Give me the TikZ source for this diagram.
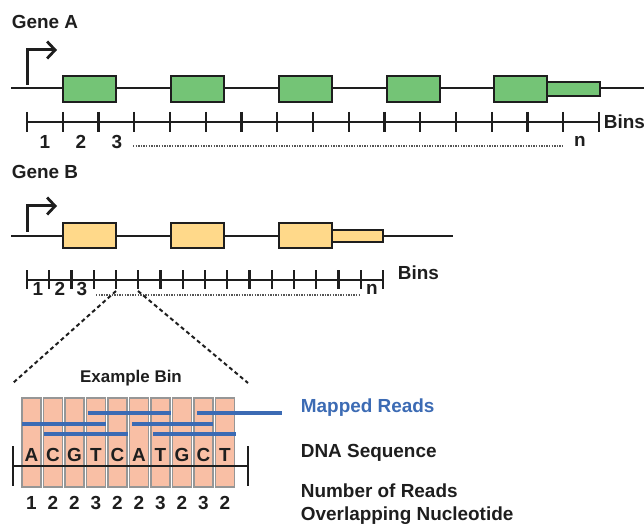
\documentclass[tikz,border=0pt]{standalone}
\usepackage{fontspec}
\setmainfont{Liberation Sans}
\usepackage{xcolor}
\usepackage{tikz}
\usetikzlibrary{arrows.meta, positioning, calc}
\definecolor{ExonGreen}{RGB}{116, 196, 118}
\definecolor{ExonYellow}{RGB}{255, 217, 138}
\definecolor{BinSalmon}{RGB}{249, 191, 165}
\definecolor{BinEdge}{RGB}{150, 150, 150}
\definecolor{ReadBlue}{RGB}{60, 107, 180}
\definecolor{InkDark}{RGB}{30, 30, 30}

\begin{document}
\begin{tikzpicture}[x=1bp,y=-1bp,
    line width=1.8bp, draw=InkDark,
    lbl/.style={font=\fontsize{19}{22}\selectfont\bfseries, text=InkDark, inner sep=0pt},
    exonA/.style={fill=ExonGreen, draw=InkDark, line width=2bp},
    exonB/.style={fill=ExonYellow, draw=InkDark, line width=2bp},
    tss/.style={line width=3bp, -{Straight Barb[length=8bp, width=17bp, line width=2.8bp]}},
    tick/.style={line width=2.2bp},
    binbox/.style={fill=BinSalmon, draw=BinEdge, line width=1.2bp},
    readline/.style={ReadBlue, line width=3.5bp},
    dotline/.style={line width=2bp, dash pattern=on 1.3bp off 1.3bp, InkDark!75}]
  \path[use as bounding box] (0,0) rectangle (644,531);

  % gene A
  \node[lbl, anchor=west] (geneA) at (11,22) {Gene A};
  \draw[tss] (27,85) -- (27,50) -- (57,50);
  \draw (11,88) -- (644,88);
  \foreach \x in {63,171,279,387,494}
    \draw[exonA] (\x,76) rectangle ++(53,26);
  \draw[exonA] (547,82) rectangle (600,96);
  \draw (27,122) -- (599,122);
  \foreach \i in {0,...,16} {
    \pgfmathsetmacro\tx{27+35.75*\i}
    \draw[tick] (\tx,112) -- (\tx,132);
  }
  \node[lbl] (binA1) at (45,142) {1};
  \node[lbl] (binA2) at (81,142) {2};
  \node[lbl] (binA3) at (117,142) {3};
  \node[lbl] (binAn) at (580,141) {n};
  \draw[dotline] (133,146) -- (564,146);
  \node[lbl, anchor=west] (binsA) at (603,122) {Bins};

  % gene B
  \node[lbl, anchor=west] (geneB) at (11,172) {Gene B};
  \draw[tss] (27,232) -- (27,206) -- (57,206);
  \draw (11,236) -- (453,236);
  \foreach \x in {63,171,279}
    \draw[exonB] (\x,223) rectangle ++(53,25);
  \draw[exonB] (332,230) rectangle (383,242);
  \draw (27,280) -- (383,280);
  \foreach \i in {0,...,16} {
    \pgfmathsetmacro\tx{27+22.25*\i}
    \draw[tick] (\tx,270) -- (\tx,289);
  }
  \node[lbl] (binB1) at (38,289) {1};
  \node[lbl] (binB2) at (60,289) {2};
  \node[lbl] (binB3) at (82,289) {3};
  \node[lbl] (binBn) at (372,289) {n};
  \draw[dotline] (96,295) -- (360,295);
  \node[lbl, anchor=west] (binsB) at (397,273) {Bins};

  % zoom onto one bin
  \coordinate (zoomL) at (116,291);
  \coordinate (zoomR) at (138,291);
  \coordinate (exL) at (13,383);
  \coordinate (exR) at (248,383);
  \draw[line width=2bp, dash pattern=on 4bp off 3bp] (zoomL) -- (exL);
  \draw[line width=2bp, dash pattern=on 4bp off 3bp] (zoomR) -- (exR);
  \node[lbl, font=\fontsize{17}{20}\selectfont\bfseries] (exBin) at (131,378) {Example Bin};

  \foreach \i in {0,...,9}
    \draw[binbox] (22+21.5*\i,398) rectangle ++(19,89);
  \draw[readline] (88,413) -- (171,413);
  \draw[readline] (197,413) -- (282,413);
  \draw[readline] (22,424) -- (106,424);
  \draw[readline] (132,424) -- (213,424);
  \draw[readline] (44,434) -- (128,434);
  \draw[readline] (153,434) -- (236,434);
  \foreach \b [count=\i from 0] in {A,C,G,T,C,A,T,G,C,T}
    \node[lbl] (nt\i) at (31.5+21.5*\i,455) {\b};
  \draw (13,466) -- (248,466);
  \draw (13,446) -- (13,486);
  \draw (248,446) -- (248,486);
  \foreach \n [count=\i from 0] in {1,2,2,3,2,2,3,2,3,2}
    \node[lbl] (cnt\i) at (31.5+21.5*\i,503) {\n};

  % legend
  \node[lbl, anchor=west, text=ReadBlue] (mapped) at (300,408) {Mapped Reads};
  \node[lbl, anchor=west] (dnaSeq) at (300,453) {DNA Sequence};
  \node[lbl, anchor=west, align=left] (numReads) at (300,504)
    {Number of Reads\\[1bp]Overlapping Nucleotide};
\end{tikzpicture}
\end{document}
